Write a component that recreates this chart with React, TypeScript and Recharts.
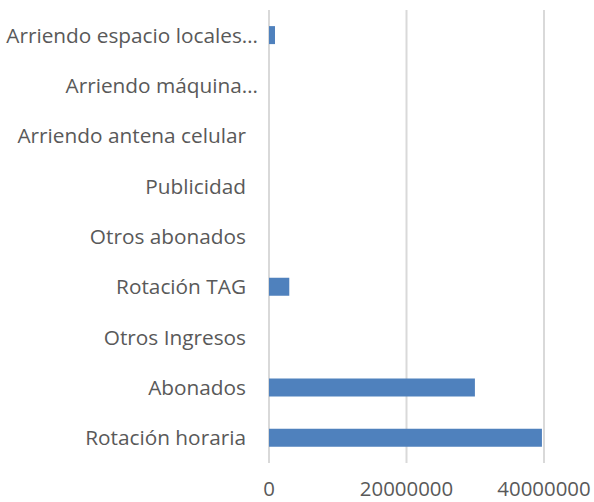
import React from 'react';
import { BarChart, Bar, XAxis, YAxis, CartesianGrid } from 'recharts';

const categories = [
  'Arriendo espacio locales…',
  'Arriendo máquina…',
  'Arriendo antena celular',
  'Publicidad',
  'Otros abonados',
  'Rotación TAG',
  'Otros Ingresos',
  'Abonados',
  'Rotación horaria',
];
const values = [870000, 0, 0, 0, 0, 2950000, 0, 29950000, 39700000];
const xTicks = [0, 20000000, 40000000];

const data = categories.map((name, i) => ({ name, value: values[i] }));

const TEXT = '#595959';
const FONT = '"Open Sans", sans-serif';

const CategoryTick = (props: any) => {
  const { x, y, payload } = props;
  const truncated = String(payload.value).endsWith('…');
  return (
    <text
      x={x + (truncated ? 12 : 0)}
      y={y}
      dy="0.355em"
      textAnchor="end"
      fill={TEXT}
      fontSize={20.8}
      fontFamily={FONT}
    >
      {payload.value}
    </text>
  );
};

export default function App() {
  return (
    <div style={{ position: 'absolute', left: 0, top: 0, width: 594, height: 502, overflow: 'hidden', background: '#fff' }}>
      <BarChart
        width={640}
        height={502}
        data={data}
        layout="vertical"
        margin={{ top: 10, right: 96, left: 0, bottom: 0 }}
        barCategoryGap="32%"
      >
        <CartesianGrid horizontal={false} stroke="#d9d9d9" strokeWidth={2} />
        <XAxis
          type="number"
          domain={[0, 40000000]}
          ticks={xTicks}
          axisLine={false}
          tickLine={false}
          tickSize={0}
          tickMargin={19}
          height={39}
          interval={0}
          tick={{ fill: TEXT, fontSize: 20.4, fontFamily: FONT }}
        />
        <YAxis
          type="category"
          dataKey="name"
          width={269}
          axisLine={false}
          tickLine={false}
          tickSize={0}
          tickMargin={23}
          interval={0}
          tick={<CategoryTick />}
        />
        <Bar dataKey="value" fill="#4f81bd" isAnimationActive={false} />
      </BarChart>
    </div>
  );
}
